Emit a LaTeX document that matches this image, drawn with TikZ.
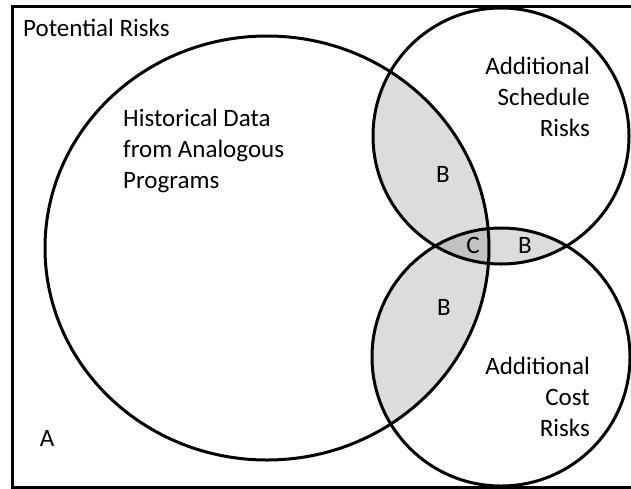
\documentclass[tikz,border=0pt]{standalone}
\usepackage{fontspec}
\setmainfont{Carlito}
\usetikzlibrary{positioning}
\definecolor{lensgray}{HTML}{DCDCDC}
\definecolor{coregray}{HTML}{C2C2C2}
\tikzset{
  txt/.style={
    font=\fontsize{25}{31}\selectfont,
    inner sep=0pt
  },
  ring/.style={draw, line width=3pt},
  frame/.style={draw, line width=3pt}
}
% region outlines
\newcommand\histshape{(hist) ellipse [x radius=222pt, y radius=212pt]}
\newcommand\schedshape{(sched) circle [radius=128pt]}
\newcommand\costshape{(cost) circle [radius=129pt]}

\begin{document}
\begin{tikzpicture}[x=1pt,y=-1pt]
\useasboundingbox (0,0) rectangle (631,488);
\clip (0,0) rectangle (631,488);

\coordinate (hist) at (267,248);
\coordinate (sched) at (501,136);
\coordinate (cost) at (501,357);

% shaded overlaps
\begin{scope}
  \clip \histshape;
  \fill[lensgray] \schedshape;
  \fill[lensgray] \costshape;
\end{scope}
\begin{scope}
  \clip \schedshape;
  \fill[lensgray] \costshape;
  \clip \histshape;
  \fill[coregray] \costshape;
\end{scope}

% outlines
\draw[frame] (12,6) rectangle (660,487.5);
\draw[ring] \histshape;
\draw[ring] \schedshape;
\draw[ring] \costshape;

% labels (base = last line)
\node[txt, anchor=base west] (potential) at (23,36) {Potential Risks};
\node[txt, align=left, anchor=base west] (historical) at (123,188) {Historical Data\\from Analogous\\Programs};
\node[txt, align=right, anchor=base east] (schedrisks) at (590,136) {Additional\\Schedule\\Risks};
\node[txt, align=right, anchor=base east] (costrisks) at (590,436) {Additional\\Cost\\Risks};
\node[txt, anchor=base] (bsched) at (443,182) {B};
\node[txt, anchor=base] (core) at (473,253) {C};
\node[txt, anchor=base] (bpair) at (525,253) {B};
\node[txt, anchor=base] (bcost) at (444,315) {B};
\node[txt, anchor=base] (outside) at (47,446) {A};

\end{tikzpicture}
\end{document}
